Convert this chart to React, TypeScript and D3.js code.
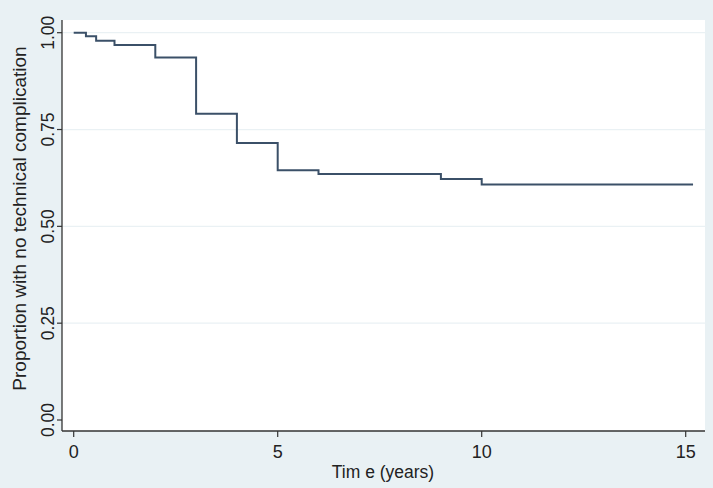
import React from "react";
import * as d3 from "d3";

const times = [0, 0.3, 0.55, 1.0, 2.0, 3.0, 4.0, 5.0, 6.0, 9.0, 10.0, 15.18];
const survival = [1.0, 0.991, 0.979, 0.968, 0.936, 0.791, 0.715, 0.645, 0.635, 0.622, 0.608, 0.608];
const xTicks = [0, 5, 10, 15];
const yTicks = [0, 0.25, 0.5, 0.75, 1.0];
const yTickLabels = ["0.00", "0.25", "0.50", "0.75", "1.00"];
const xTitle = "Tim e (years)";
const yTitle = "Proportion with no technical complication";

export default function App() {
  const W = 713, H = 488;
  const left = 62, right = 705, top = 20, bottom = 431;
  const x = d3.scaleLinear().domain([0, 15]).range([73.7, 685.7]);
  const y = d3.scaleLinear().domain([0, 1]).range([420, 32.7]);
  const pts = times.map((t, i) => [t, survival[i]] as [number, number]);
  const line = d3.line<[number, number]>().x(d => x(d[0])).y(d => y(d[1])).curve(d3.curveStepAfter);
  const font = "'Liberation Sans', Arial, sans-serif";
  return (
    <svg width={W} height={H} style={{ position: "absolute", left: 0, top: 0 }}>
      <rect x={0} y={0} width={W} height={H} fill="#e9f1f4" />
      <rect x={left} y={top} width={right - left} height={bottom - top} fill="#ffffff" />
      {yTicks.filter(v => v > 0).map(v => (
        <line key={v} x1={left} x2={right} y1={y(v)} y2={y(v)} stroke="#eaf1f4" strokeWidth={1.2} />
      ))}
      <line x1={left} x2={left} y1={top} y2={bottom} stroke="#333" strokeWidth={1.3} />
      <line x1={left} x2={right} y1={bottom} y2={bottom} stroke="#333" strokeWidth={1.3} />
      {yTicks.map((v, i) => (
        <g key={v}>
          <line x1={left - 5} x2={left} y1={y(v)} y2={y(v)} stroke="#333" strokeWidth={1.2} />
          <text transform={`translate(${53.5},${y(v)}) rotate(-90)`} textAnchor="middle" fontFamily={font} fontSize={17.5} fill="#222">
            {yTickLabels[i]}
          </text>
        </g>
      ))}
      {xTicks.map(v => (
        <g key={v}>
          <line x1={x(v)} x2={x(v)} y1={bottom} y2={bottom + 6} stroke="#333" strokeWidth={1.2} />
          <text x={x(v)} y={458} textAnchor="middle" fontFamily={font} fontSize={18} fill="#222">{v}</text>
        </g>
      ))}
      <text x={383} y={477.5} textAnchor="middle" fontFamily={font} fontSize={17.5} fill="#222">{xTitle}</text>
      <text transform={`translate(${26},${218.5}) rotate(-90)`} textAnchor="middle" fontFamily={font} fontSize={19} fill="#222">{yTitle}</text>
      <path d={line(pts) || ""} fill="none" stroke="#3b5068" strokeWidth={2} />
    </svg>
  );
}
